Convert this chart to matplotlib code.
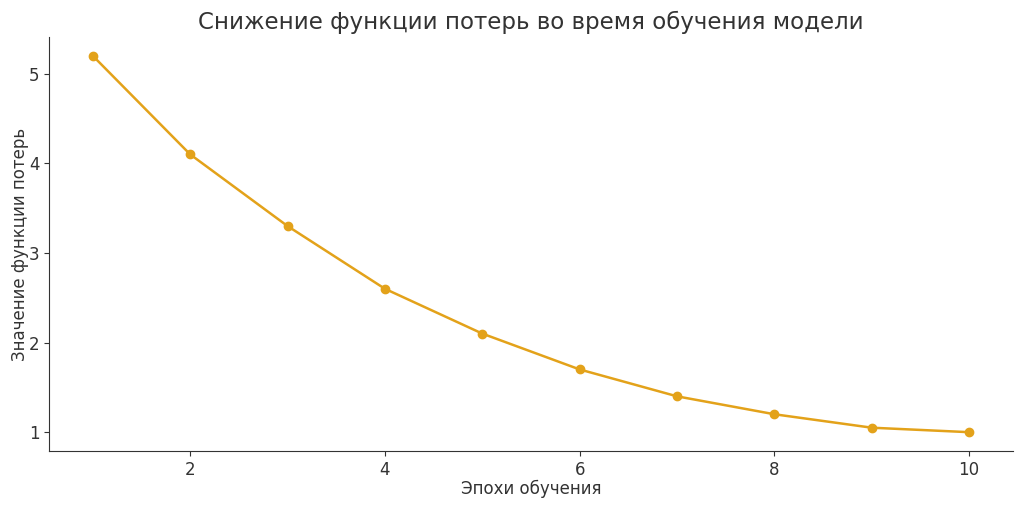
import numpy as np
import matplotlib.pyplot as plt

epochs = [1, 2, 3, 4, 5, 6, 7, 8, 9, 10]
loss = [5.2, 4.1, 3.3, 2.6, 2.1, 1.7, 1.4, 1.2, 1.05, 1.0]

fig = plt.figure(figsize=(10.24, 5.07), dpi=100)
ax = fig.add_axes([49/1024, 56/507, 964/1024, 414/507])

ax.plot(epochs, loss, color='#E3A21A', marker='o', markersize=6, linewidth=1.8)

ax.set_title('Снижение функции потерь во время обучения модели', fontsize=16.5, color='#333333', pad=6)
ax.set_xlabel('Эпохи обучения', fontsize=12, color='#333333', labelpad=1)
ax.set_ylabel('Значение функции потерь', fontsize=12, color='#333333', labelpad=0)
ax.set_xticks([2, 4, 6, 8, 10])
ax.set_yticks([1, 2, 3, 4, 5])
ax.tick_params(labelsize=12, colors='#333333')
ax.spines['top'].set_visible(False)
ax.spines['right'].set_visible(False)
for s in ['left', 'bottom']:
    ax.spines[s].set_color('#333333')

fig.savefig('out.png', dpi=100)
